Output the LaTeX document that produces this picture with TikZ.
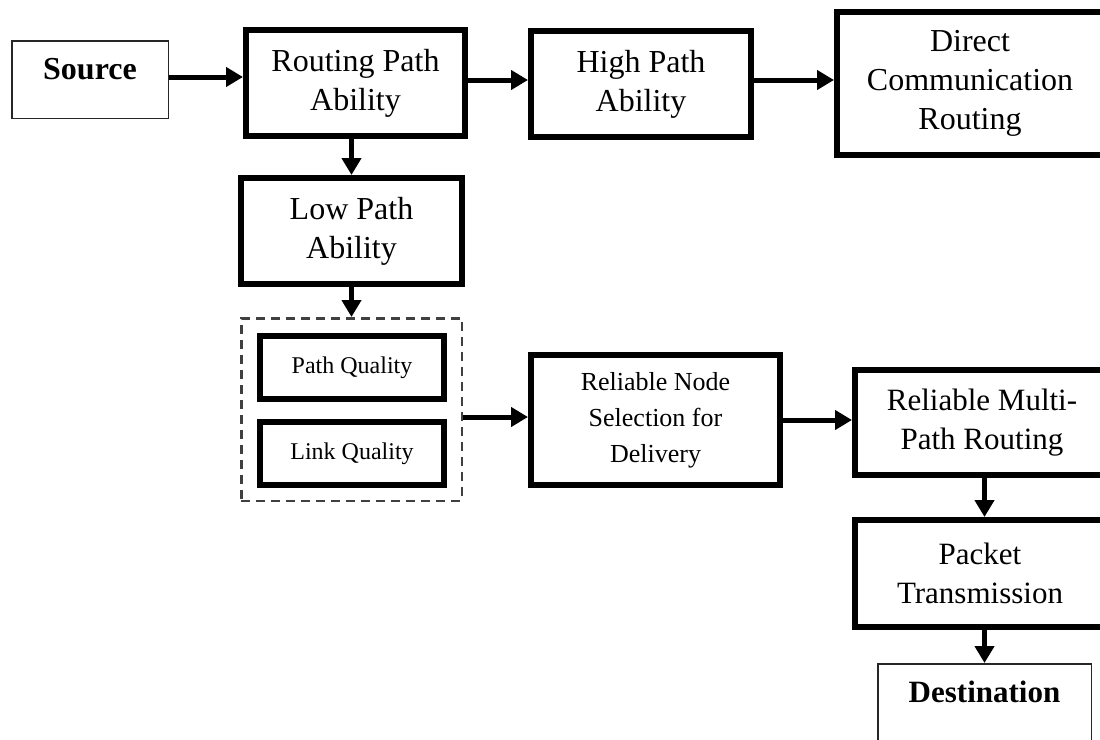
\documentclass[tikz,border=0pt]{standalone}
\usepackage{fontspec}
\setmainfont{Liberation Serif}
\usetikzlibrary{arrows.meta,calc}
\begin{document}
\begin{tikzpicture}[x=1pt,y=-1pt,
  tbox/.style={draw=black, line width=6pt, rectangle, inner sep=0pt, align=center, fill=white},
  thinbox/.style={draw=black!85, line width=1.5pt, rectangle, inner sep=0pt, align=center, text height=20pt, text depth=20pt},
  arr/.style={line width=5pt, -{Triangle[length=17pt,width=19pt]}},
  dashbox/.style={draw=black!75, line width=2.5pt, dash pattern=on 9pt off 6pt, rectangle, inner sep=0pt},
  fbig/.style={font=\fontsize{32}{39}\selectfont},
  fmid/.style={font=\fontsize{31}{39}\selectfont},
  fnode/.style={font=\fontsize{26}{36}\selectfont},
  fsmall/.style={font=\fontsize{24}{30}\selectfont},
  fbold/.style={font=\fontsize{32}{39}\selectfont\bfseries}]
\useasboundingbox (0,0) rectangle (1100,739);
\clip (0,0) rectangle (1100,739);

% top row
\node[thinbox, fbold, minimum width=156.5pt, minimum height=77.5pt] (src) at (90,79.5) {Source};
\node[tbox, fbig, minimum width=219pt, minimum height=106pt] (rpa) at (355.5,83) {Routing Path\\Ability};
\node[tbox, fbig, minimum width=220pt, minimum height=106pt] (hpa) at (641,84) {High Path\\Ability};
\node[tbox, fbig, minimum width=266pt, minimum height=143pt] (dcr) at (970,83.5) {Direct\\Communication\\Routing};

% left column
\node[tbox, fbig, minimum width=221pt, minimum height=106pt] (lpa) at (351.5,231) {Low Path\\Ability};
\node[dashbox, minimum width=220.5pt, minimum height=182.5pt] (grp) at (351.5,409.5) {};
\node[tbox, fsmall, minimum width=184pt, minimum height=63pt] (pq) at (352,367.5) {Path Quality};
\node[tbox, fsmall, minimum width=184pt, minimum height=63pt] (lq) at (352,453.5) {Link Quality};

% middle and right
\node[tbox, fnode, minimum width=249pt, minimum height=130pt] (rns) at (655.5,420) {Reliable Node\\Selection for\\Delivery};
\node[tbox, fmid, minimum width=254pt, minimum height=105pt] (rmr) at (982,422.5) {Reliable Multi-\\Path Routing};
\node[tbox, fmid, minimum width=250pt, minimum height=107pt] (pkt) at (980,573.5) {Packet\\Transmission};
\node[thinbox, fbold, font=\fontsize{31}{39}\selectfont\bfseries, minimum width=213.5pt, minimum height=77.5pt] (dst) at (984.5,702.5) {Destination};

% connectors
\draw[arr] ($(src.east)+(0,-2.5)$) -- ($(src.east -| rpa.west)+(0,-2.5)$);
\draw[arr] ($(rpa.east |- hpa.west)+(0,-4)$) -- ($(hpa.west)+(0,-4)$);
\draw[arr] ($(hpa.east)+(0,-4)$) -- ($(hpa.east -| dcr.west)+(0,-4)$);
\draw[arr] (lpa.north |- rpa.south) -- (lpa.north);
\draw[arr] (lpa.south) -- (lpa.south |- grp.north);
\draw[arr] ($(grp.east)+(0,7.5)$) -- ($(grp.east -| rns.west)+(0,7.5)$);
\draw[arr] (rns.east) -- (rns.east -| rmr.west);
\draw[arr] (rmr.south -| dst.north) -- (pkt.north -| dst.north);
\draw[arr] (pkt.south -| dst.north) -- (dst.north);
\end{tikzpicture}
\end{document}
